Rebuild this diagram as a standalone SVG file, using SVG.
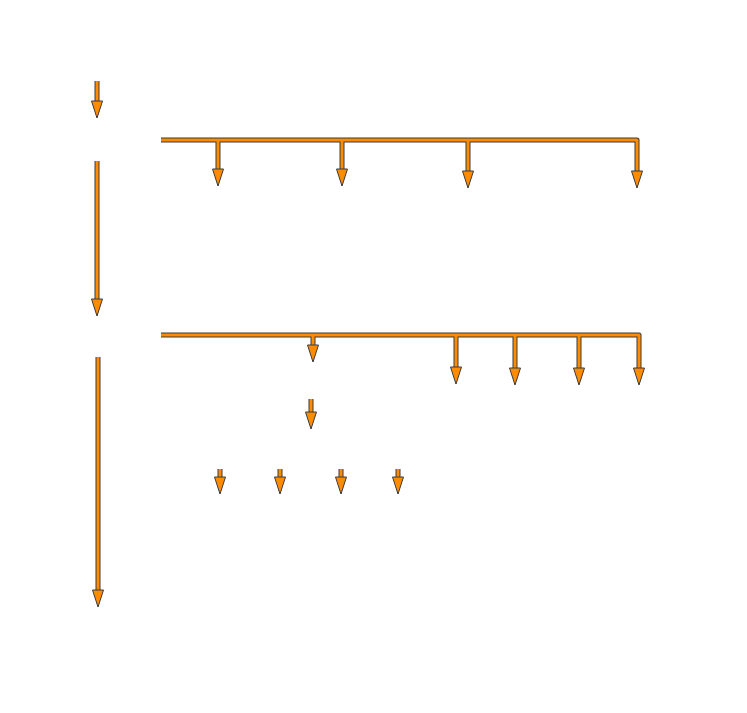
<svg xmlns="http://www.w3.org/2000/svg" xmlns:xlink="http://www.w3.org/1999/xlink" width="747" height="713" viewBox="0 0 747 713">
<style>
.o{fill:none;stroke:#3a3a3a;stroke-width:5;stroke-linejoin:round;stroke-linecap:butt}
.i{fill:none;stroke:#ff8c00;stroke-width:3;stroke-linejoin:round;stroke-linecap:butt}
.h{fill:#ff8c00;stroke:#3a3a3a;stroke-width:1;stroke-linejoin:miter}
</style>
<defs>
<path id="hd" class="h" d="M-5.5,0 L5.5,0 L0,17 Z"/>
<g id="shafts">
<path d="M97,81 V101"/>
<path d="M97,161 V299"/>
<path d="M98,357 V590"/>
<path d="M161,140 H637 V171"/>
<path d="M218,140 V169"/>
<path d="M342,140 V169"/>
<path d="M468,140 V171"/>
<path d="M161,335 H639 V368"/>
<path d="M313,335 V345"/>
<path d="M456,335 V367"/>
<path d="M515,335 V368"/>
<path d="M579,335 V368"/>
<path d="M311,399 V412"/>
<path d="M220,469 V477"/>
<path d="M280,469 V477"/>
<path d="M341,469 V477"/>
<path d="M398,469 V477"/>
</g>
</defs>
<rect width="747" height="713" fill="#ffffff"/>
<g id="connectors">
<use xlink:href="#shafts" class="o"/>
<use xlink:href="#shafts" class="i"/>
<use xlink:href="#hd" x="97" y="101"/>
<use xlink:href="#hd" x="97" y="299"/>
<use xlink:href="#hd" x="98" y="590"/>
<use xlink:href="#hd" x="637" y="171"/>
<use xlink:href="#hd" x="218" y="169"/>
<use xlink:href="#hd" x="342" y="169"/>
<use xlink:href="#hd" x="468" y="171"/>
<use xlink:href="#hd" x="639" y="368"/>
<use xlink:href="#hd" x="313" y="345"/>
<use xlink:href="#hd" x="456" y="367"/>
<use xlink:href="#hd" x="515" y="368"/>
<use xlink:href="#hd" x="579" y="368"/>
<use xlink:href="#hd" x="311" y="412"/>
<use xlink:href="#hd" x="220" y="477"/>
<use xlink:href="#hd" x="280" y="477"/>
<use xlink:href="#hd" x="341" y="477"/>
<use xlink:href="#hd" x="398" y="477"/>
</g>
</svg>
